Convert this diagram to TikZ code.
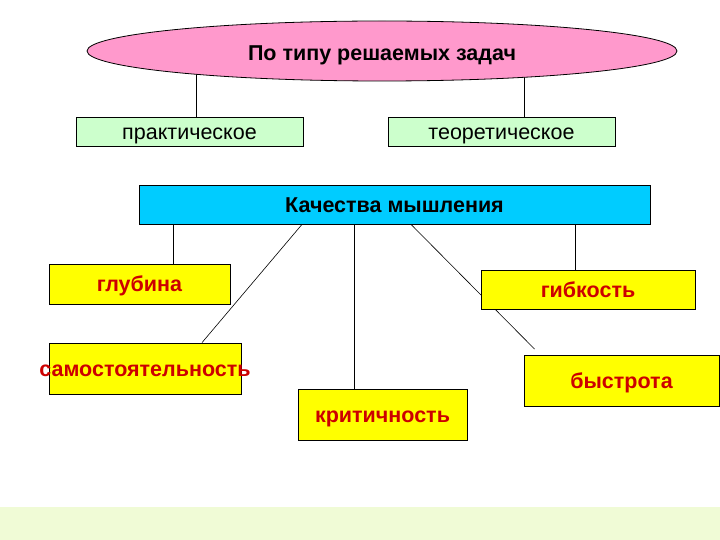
\documentclass[tikz,border=0pt]{standalone}
\usepackage{fontspec}
\setmainfont{Liberation Sans}
\usetikzlibrary{shapes.geometric,backgrounds}
\definecolor{pinkfill}{RGB}{255,153,204}
\definecolor{greenfill}{RGB}{204,255,204}
\definecolor{bluefill}{RGB}{0,204,255}
\definecolor{yellowfill}{RGB}{255,255,0}
\definecolor{redtext}{RGB}{204,0,0}
\definecolor{bandfill}{RGB}{240,251,214}
\tikzset{
  box/.style={draw=black, line width=0.8pt, rectangle, inner sep=0pt, align=center, text height=15.2pt, text depth=0pt},
  greenbox/.style={box, fill=greenfill, font=\fontsize{21.5}{24}\selectfont},
  yellowbox/.style={box, fill=yellowfill, text=redtext, font=\bfseries\fontsize{21.5}{24}\selectfont},
  conn/.style={draw=black, line width=0.6pt},
}
\begin{document}
\begin{tikzpicture}[x=1pt,y=-1pt]
\useasboundingbox (0,0) rectangle (720,540);

\node[ellipse, draw=black, line width=0.8pt, fill=pinkfill, minimum width=590pt, minimum height=60pt, inner sep=0pt, text height=19pt, text depth=0pt, font=\bfseries\fontsize{21.5}{24}\selectfont] (ell) at (382,51) {По типу решаемых задач};

\node[greenbox, minimum width=227pt, minimum height=29pt] (prak) at (189.5,131.5) {практическое};
\node[greenbox, minimum width=227pt, minimum height=29pt] (teor) at (501.5,131.5) {теоретическое};

\node[box, fill=bluefill, minimum width=511pt, minimum height=39pt, font=\bfseries\fontsize{21.5}{24}\selectfont] (kach) at (394.5,204.5) {Качества мышления};

\node[yellowbox, minimum width=181pt, minimum height=40pt] (glub) at (139.5,284) {глубина};
\node[yellowbox, minimum width=192pt, minimum height=51pt] (samo) at (145,368.5) {\makebox[0pt]{самостоятельность}};
\node[yellowbox, minimum width=169pt, minimum height=51pt] (krit) at (382.5,414.5) {критичность};
\node[yellowbox, minimum width=214pt, minimum height=39pt] (gibk) at (588,289.5) {гибкость};
\node[yellowbox, minimum width=195pt, minimum height=51pt] (bystr) at (621.5,381) {быстрота};

\coordinate (bend) at ([xshift=11pt,yshift=6pt]bystr.north west);

\begin{scope}[on background layer]
\fill[white] (0,0) rectangle (720,540);
\fill[bandfill] (0,507) rectangle (720,540);
\draw[conn] ([xshift=6.5pt]prak.north) -- ([xshift=6.5pt]prak.north |- ell.center);
\draw[conn] ([xshift=22.5pt]teor.north) -- ([xshift=22.5pt]teor.north |- ell.center);
\draw[conn] ([xshift=33.5pt]glub.north) -- ([xshift=33.5pt]glub.north |- kach.center);
\draw[conn] ([xshift=-92.5pt]kach.south) -- ([xshift=57pt]samo.north);
\draw[conn] ([xshift=-28.5pt]krit.north) -- ([xshift=-28.5pt]krit.north |- kach.center);
\draw[conn] ([xshift=-13pt]gibk.north) -- ([xshift=-13pt]gibk.north |- kach.center);
\draw[conn] ([xshift=16.5pt]kach.south) -- (bend);
\end{scope}
\end{tikzpicture}
\end{document}
